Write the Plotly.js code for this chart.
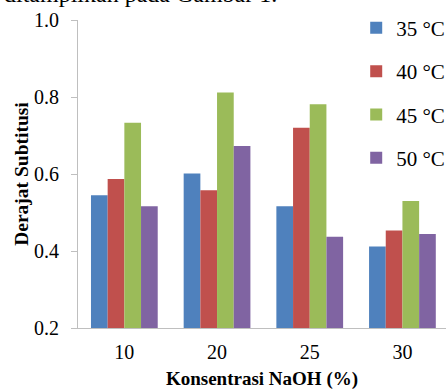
<!DOCTYPE html>
<html>
<head>
<meta charset="utf-8">
<script src="https://cdn.plot.ly/plotly-3.0.1.min.js"></script>
<style>html,body{margin:0;padding:0;background:#fff;}#chart{width:446px;height:390px;}</style>
</head>
<body>
<div id="chart"></div>
<script>
var categories = ["10", "20", "25", "30"];
var seriesNames = ["35 °C", "40 °C", "45 °C", "50 °C"];
var values35 = [0.545, 0.601, 0.516, 0.412];
var values40 = [0.587, 0.558, 0.720, 0.453];
var values45 = [0.733, 0.812, 0.781, 0.530];
var values50 = [0.516, 0.673, 0.437, 0.444];
var colors = ["#4F81BD", "#C0504D", "#9BBB59", "#8064A2"];
var allValues = [values35, values40, values45, values50];
var baseline = 0.2;

var font = "'Liberation Serif', 'Times New Roman', serif";
var traces = allValues.map(function (v, i) {
  return {
    type: "bar",
    name: seriesNames[i],
    x: categories,
    y: v.map(function (d) { return d - baseline; }),
    base: baseline,
    marker: { color: colors[i], line: { width: 0 } },
    legendgroup: "g" + i
  };
});

var layout = {
  width: 446, height: 390,
  margin: { l: 78, r: 0, t: 20, b: 62, autoexpand: false },
  paper_bgcolor: "#fff", plot_bgcolor: "#fff",
  font: { family: font, color: "#000", size: 20 },
  barmode: "group",
  bargap: 0.28,
  bargroupgap: 0,
  xaxis: {
    type: "category",
    range: [-0.5, 3.47],
    showline: true, linecolor: "#BFBFBF", linewidth: 1,
    ticks: "", ticklabelstandoff: 6,
    tickfont: { size: 20, family: font, color: "#000" },
    showgrid: false, zeroline: false,
    title: { text: "<b>Konsentrasi NaOH (%)</b>", font: { size: 19, family: font, color: "#000" }, standoff: 13 }
  },
  yaxis: {
    range: [0.2, 1.0], dtick: 0.2, tick0: 0.2, tickformat: ".1f",
    showline: true, linecolor: "#BFBFBF", linewidth: 1,
    ticks: "outside", ticklen: 6, tickcolor: "#BFBFBF",
    ticklabelstandoff: 8,
    tickfont: { size: 20, family: font, color: "#000" },
    showgrid: false, zeroline: false,
    title: { text: "<b>Derajat Subtitusi</b>", font: { size: 19.5, family: font, color: "#000" }, standoff: 0 }
  },
  legend: {
    x: 0.756, xanchor: "left", y: 1.04, yanchor: "top",
    bgcolor: "rgba(0,0,0,0)",
    font: { size: 21, family: font, color: "#000" },
    tracegroupgap: 13,
    traceorder: "grouped",
    itemwidth: 30
  },
  annotations: [{
    text: "ditampilkan pada Gambar 1.",
    xref: "paper", yref: "paper", x: 0, y: 1,
    xanchor: "left", yanchor: "bottom",
    xshift: -76, yshift: 11,
    showarrow: false,
    font: { size: 24, family: font, color: "#000" }
  }],
  showlegend: true
};

Plotly.newPlot("chart", traces, layout, { displayModeBar: false, staticPlot: true });
</script>
</body>
</html>
